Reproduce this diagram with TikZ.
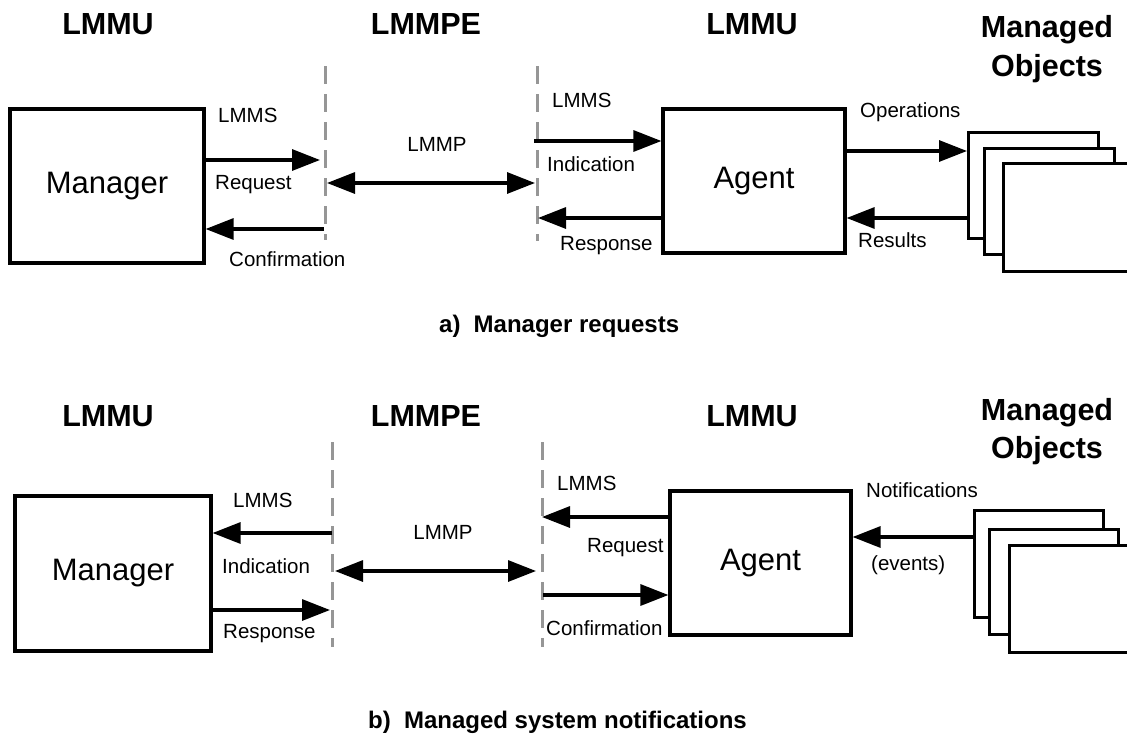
\documentclass[tikz,border=0pt]{standalone}
\usepackage{fontspec}
\setmainfont{Liberation Sans}
\usetikzlibrary{arrows.meta}

\definecolor{divgray}{RGB}{150,150,150}

\tikzset{
  heading/.style={font=\fontsize{30.5}{34}\selectfont\bfseries, inner sep=0pt, anchor=base},
  caption/.style={font=\fontsize{24}{28}\selectfont\bfseries, inner sep=0pt, anchor=base west},
  lbl/.style={font=\fontsize{20.5}{24}\selectfont, inner sep=0pt, anchor=base west},
  unit/.style={draw, line width=3.2pt, font=\fontsize{31}{36}\selectfont, inner sep=0pt},
  objbox/.style={draw, fill=white, line width=3.2pt, inner sep=0pt, anchor=north west},
  divider/.style={draw=divgray, line width=3pt, dash pattern=on 18pt off 10pt},
  arr/.style={line width=3.2pt, -{Triangle[length=28pt,width=21pt]}},
  darr/.style={line width=3.2pt, {Triangle[length=28pt,width=21pt]}-{Triangle[length=28pt,width=21pt]}},
}

\begin{document}
\begin{tikzpicture}[x=1pt, y=-1pt]
\useasboundingbox (0,0) rectangle (1127,734);

% ===================== a) Manager requests =====================
\node[heading] (hA1) at (108,34) {LMMU};
\node[heading] (hA2) at (426,34) {LMMPE};
\node[heading] (hA3) at (752,34) {LMMU};
\node[heading] (hA4) at (1047,37) {Managed};
\node[heading] (hA5) at (1047,76) {Objects};

% protocol boundaries
\coordinate (dA1t) at (325,66);  \coordinate (dA1b) at (325,240);
\coordinate (dA2t) at (537,66);  \coordinate (dA2b) at (537,241);
\draw[divider] (dA1t) -- (dA1b);
\draw[divider] (dA2t) -- (dA2b);

\node[unit, minimum width=194pt, minimum height=154pt] (mgrA) at (107,186) {Manager};
\node[unit, minimum width=182pt, minimum height=144pt] (agtA) at (754,181) {Agent};

% managed objects (stacked)
\node[objbox, minimum width=130pt, minimum height=106pt] (moA1) at (967,131) {};
\node[objbox, minimum width=130pt, minimum height=106pt] (moA2) at (983,147) {};
\node[objbox, minimum width=135pt, minimum height=108pt] (moA3) at (1002,162) {};

% points where the primitives meet the boundaries
\coordinate (reqA)  at (320,160);
\coordinate (cnfA)  at (324,229);
\coordinate (pA1)   at (327,183);
\coordinate (pA2)   at (535,183);
\coordinate (indA)  at (534,141);
\coordinate (rspA)  at (538,218);

\draw[arr] (mgrA.east |- reqA) -- (reqA);
\draw[arr] (cnfA) -- (mgrA.east |- cnfA);
\draw[darr] (pA1) -- (pA2);
\draw[arr] (indA) -- (agtA.west |- indA);
\draw[arr] (agtA.west |- rspA) -- (rspA);
\draw[arr] (agtA.east |- 0,151) -- (moA1.west |- 0,151);
\draw[arr] (moA1.west |- 0,218) -- (agtA.east |- 0,218);

\node[lbl] (lA1) at (218,122) {LMMS};
\node[lbl] (lA2) at (215,189) {Request};
\node[lbl] (lA3) at (229,266) {Confirmation};
\node[lbl, anchor=base] (lA4) at (437,151) {LMMP};
\node[lbl] (lA5) at (552,107) {LMMS};
\node[lbl] (lA6) at (547,171) {Indication};
\node[lbl] (lA7) at (560,250) {Response};
\node[lbl] (lA8) at (860,117) {Operations};
\node[lbl] (lA9) at (858,247) {Results};

\node[caption] (capA) at (439,332) {a)\hspace{0.55em}Manager requests};

% ================ b) Managed system notifications ================
\node[heading] (hB1) at (108,426) {LMMU};
\node[heading] (hB2) at (426,426) {LMMPE};
\node[heading] (hB3) at (752,426) {LMMU};
\node[heading] (hB4) at (1047,420) {Managed};
\node[heading] (hB5) at (1047,458) {Objects};

\coordinate (dB1t) at (332,442);  \coordinate (dB1b) at (332,647);
\coordinate (dB2t) at (542,442);  \coordinate (dB2b) at (542,647);
\draw[divider] (dB1t) -- (dB1b);
\draw[divider] (dB2t) -- (dB2b);

\node[unit, minimum width=196pt, minimum height=155pt] (mgrB) at (113,573.5) {Manager};
\node[unit, minimum width=181pt, minimum height=144pt] (agtB) at (760.5,563) {Agent};

\node[objbox, minimum width=129pt, minimum height=107pt] (moB1) at (973,509) {};
\node[objbox, minimum width=129pt, minimum height=105pt] (moB2) at (988,528) {};
\node[objbox, minimum width=130pt, minimum height=107pt] (moB3) at (1008,544) {};

\coordinate (indB)  at (332,533);
\coordinate (rspB)  at (330,610);
\coordinate (pB1)   at (335,571);
\coordinate (pB2)   at (536,571);
\coordinate (reqB)  at (542,517);
\coordinate (cnfB)  at (543,595);

\draw[arr] (indB) -- (mgrB.east |- indB);
\draw[arr] (mgrB.east |- rspB) -- (rspB);
\draw[darr] (pB1) -- (pB2);
\draw[arr] (agtB.west |- reqB) -- (reqB);
\draw[arr] (cnfB) -- (agtB.west |- cnfB);
\draw[arr] (moB1.west |- 0,537) -- (agtB.east |- 0,537);

\node[lbl] (lB1) at (233,507) {LMMS};
\node[lbl] (lB2) at (222,573) {Indication};
\node[lbl] (lB3) at (223,638) {Response};
\node[lbl, anchor=base] (lB4) at (443,539) {LMMP};
\node[lbl] (lB5) at (557,490) {LMMS};
\node[lbl] (lB6) at (587,552) {Request};
\node[lbl] (lB7) at (546,635) {Confirmation};
\node[lbl] (lB8) at (866,497) {Notifications};
\node[lbl] (lB9) at (871,570) {(events)};

\node[caption] (capB) at (368,728) {b)\hspace{0.55em}Managed system notifications};
\end{tikzpicture}
\end{document}
